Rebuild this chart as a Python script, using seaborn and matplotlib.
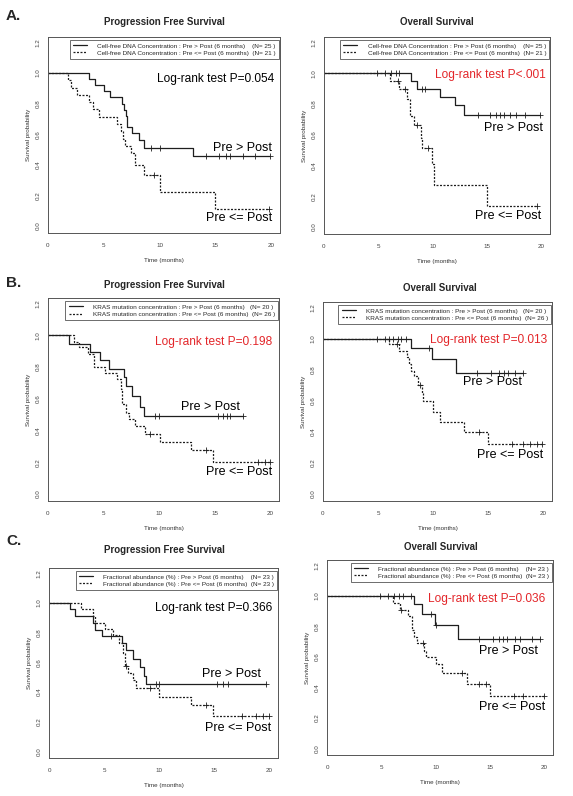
import pandas as pd
import matplotlib
matplotlib.use("Agg")
import matplotlib.pyplot as plt
from matplotlib.lines import Line2D
import seaborn as sns

sns.set_style("white")
plt.rcParams['font.family'] = ['Liberation Sans', 'DejaVu Sans']

# ---- Data ----
# A. Cell-free DNA concentration
a_pfs_hi_t = [3.7, 4.2, 5.0, 5.6, 6.6, 6.8, 7.0, 7.1, 7.5, 8.2, 8.6, 13.0]
a_pfs_hi_s = [0.96, 0.92, 0.88, 0.84, 0.80, 0.76, 0.72, 0.65, 0.61, 0.56, 0.51, 0.456]
a_pfs_hi_c = [9.2, 10.0, 14.2, 15.3, 16.0, 16.3, 17.5, 18.6, 19.9]
a_pfs_lo_t = [1.8, 2.1, 2.6, 3.7, 4.0, 4.6, 6.2, 6.5, 6.7, 6.9, 7.4, 7.8, 8.6, 10.0, 15.0]
a_pfs_lo_s = [0.952, 0.905, 0.857, 0.81, 0.762, 0.714, 0.667, 0.619, 0.571, 0.524, 0.476, 0.40, 0.333, 0.222, 0.111]
a_pfs_lo_c = [9.5, 19.8]

a_os_hi_t = [8.0, 8.6, 10.7, 12.1, 12.9]
a_os_hi_s = [0.95, 0.90, 0.845, 0.79, 0.73]
a_os_hi_c = [4.9, 5.6, 6.2, 6.6, 6.9, 9.0, 9.3, 14.2, 15.3, 15.8, 16.2, 16.6, 17.1, 17.7, 18.5, 19.9]
a_os_lo_t = [6.1, 6.9, 7.6, 7.9, 8.3, 8.9, 9.0, 9.9, 10.1, 15.0]
a_os_lo_s = [0.95, 0.895, 0.835, 0.72, 0.665, 0.58, 0.515, 0.41, 0.275, 0.14]
a_os_lo_c = [6.8, 7.5, 8.6, 9.6, 19.6]

# B. KRAS mutation concentration
b_pfs_hi_t = [1.9, 3.8, 4.7, 5.5, 6.8, 7.0, 7.6, 8.3, 8.6]
b_pfs_hi_s = [0.945, 0.895, 0.845, 0.79, 0.735, 0.68, 0.62, 0.55, 0.49]
b_pfs_hi_c = [9.6, 10.0, 15.3, 15.8, 16.1, 16.4, 17.6]
b_pfs_lo_t = [2.3, 2.8, 3.6, 4.1, 5.1, 6.2, 6.6, 6.7, 7.0, 7.3, 7.8, 8.7, 10.1, 12.9, 14.9]
b_pfs_lo_s = [0.96, 0.925, 0.885, 0.80, 0.765, 0.725, 0.66, 0.565, 0.51, 0.47, 0.43, 0.38, 0.33, 0.275, 0.20]
b_pfs_lo_c = [9.2, 14.2, 18.9, 19.5, 20.0]

b_os_hi_t = [8.0, 9.9, 12.1]
b_os_hi_s = [0.94, 0.87, 0.78]
b_os_hi_c = [4.9, 5.6, 6.0, 6.4, 6.8, 7.1, 7.5, 9.6, 14.0, 15.3, 16.0, 16.4, 16.8, 17.4, 18.2]
b_os_lo_t = [6.0, 6.9, 7.6, 7.8, 8.0, 8.3, 8.6, 9.0, 9.1, 10.0, 10.6, 12.8, 15.0]
b_os_lo_s = [0.965, 0.92, 0.88, 0.835, 0.79, 0.76, 0.70, 0.65, 0.60, 0.53, 0.465, 0.40, 0.32]
b_os_lo_c = [6.7, 8.8, 14.2, 17.2, 18.2, 18.8, 19.4, 19.9]

# C. Fractional abundance
c_pfs_hi_t = [1.9, 2.4, 4.0, 4.2, 4.8, 6.6, 7.0, 7.6, 8.3, 8.6, 8.8]
c_pfs_hi_s = [0.957, 0.91, 0.865, 0.82, 0.78, 0.73, 0.68, 0.625, 0.57, 0.51, 0.455]
c_pfs_hi_c = [5.6, 9.7, 10.0, 15.3, 15.8, 16.3, 19.7]
c_pfs_lo_t = [2.9, 4.0, 4.2, 5.1, 5.8, 6.4, 6.7, 6.9, 7.2, 7.6, 7.9, 10.0, 12.9, 14.9]
c_pfs_lo_s = [0.957, 0.91, 0.865, 0.826, 0.785, 0.73, 0.665, 0.575, 0.53, 0.48, 0.425, 0.365, 0.31, 0.235]
c_pfs_lo_c = [7.0, 9.2, 14.3, 17.5, 18.8, 19.4, 20.0]

c_os_hi_t = [8.0, 8.7, 9.9, 12.1]
c_os_hi_s = [0.945, 0.88, 0.81, 0.715]
c_os_hi_c = [4.9, 5.6, 6.2, 6.6, 7.0, 7.7, 9.6, 10.0, 14.0, 15.3, 15.8, 16.2, 16.6, 17.3, 17.8, 18.9, 19.6]
c_os_lo_t = [6.1, 6.7, 7.5, 7.8, 8.0, 8.3, 8.9, 9.1, 10.0, 10.6, 12.9, 15.0]
c_os_lo_s = [0.955, 0.91, 0.865, 0.775, 0.73, 0.69, 0.64, 0.60, 0.555, 0.495, 0.42, 0.34]
c_os_lo_c = [6.8, 8.8, 12.4, 14.0, 14.6, 17.2, 18.0, 20.0]

legend_a = ["Cell-free DNA Concentration : Pre > Post (6 months)    (N= 25 )",
            "Cell-free DNA Concentration : Pre <= Post (6 months)  (N= 21 )"]
legend_b = ["KRAS mutation concentration : Pre > Post (6 months)   (N= 20 )",
            "KRAS mutation concentration : Pre <= Post (6 months)  (N= 26 )"]
legend_c = ["Fractional abundance (%) : Pre > Post (6 months)    (N= 23 )",
            "Fractional abundance (%) : Pre <= Post (6 months)  (N= 23 )"]

W, H = 573, 796
RED = '#e3262a'
LINE = '#1e1e1e'
DOT = (0, (1.6, 1.2))


def km_frame(times, surv, cens):
    # step curve runs until last event / censor time
    end = max(times + cens)
    return pd.DataFrame({'t': [0.0] + times + [end], 's': [1.0] + surv + [surv[-1]]})


def censor_frame(times, surv, cens):
    ys = []
    for c in cens:
        s = 1.0
        for t, v in zip(times, surv):
            if t <= c:
                s = v
        ys.append(s)
    return pd.DataFrame({'t': cens, 's': ys})


def px_axes(fig, x0, y0, x1, y1):
    # pixel box (left, top, right, bottom) -> figure axes
    return fig.add_axes([x0 / W, 1 - y1 / H, (x1 - x0) / W, (y1 - y0) / H])


def draw_km(ax, hi, lo, labels, p_text, p_color, txt_pos):
    for (t, s, c), ls in [(hi, '-'), (lo, DOT)]:
        sns.lineplot(data=km_frame(t, s, c), x='t', y='s', ax=ax, estimator=None, sort=False,
                     drawstyle='steps-post', color=LINE, linewidth=0.9, linestyle=ls)
        sns.scatterplot(data=censor_frame(t, s, c), x='t', y='s', ax=ax, marker='+',
                        color=LINE, s=14, linewidth=0.6, zorder=3)

    ax.set_xlim(0, 20.8)
    ax.set_ylim(-0.045, 1.235)
    ax.set_xticks([0, 5, 10, 15, 20])
    ax.set_yticks([0.0, 0.2, 0.4, 0.6, 0.8, 1.0, 1.2])
    ax.set_yticklabels(['0.0', '0.2', '0.4', '0.6', '0.8', '1.0', '1.2'], rotation=90, va='center')
    ax.tick_params(direction='out', length=3.5, width=0.5, labelsize=4.5, colors='#444', pad=2)
    ax.tick_params(axis='x', pad=4)
    for sp in ax.spines.values():
        sp.set_color('#555')
        sp.set_linewidth(0.7)
    ax.set_xlabel('Time (months)', fontsize=4.5, color='#333', labelpad=7)
    ax.set_ylabel('Survival probability', fontsize=4.5, color='#333', labelpad=3)

    handles = [Line2D([], [], color=LINE, lw=0.9, ls='-'),
               Line2D([], [], color=LINE, lw=0.9, ls=DOT)]
    ax.legend(handles, labels, loc='upper right', bbox_to_anchor=(0.997, 0.985),
              fontsize=4.6, frameon=True, fancybox=False, edgecolor='#555', framealpha=1,
              borderpad=0.5, handlelength=2.2, handletextpad=1.6, labelspacing=0.25,
              borderaxespad=0)
    ax.get_legend().get_frame().set_linewidth(0.6)

    (px, py), (hx, hy), (lx, ly) = txt_pos
    ax.text(px, py, p_text, ha='right', va='center', fontsize=8.6, color=p_color)
    ax.text(hx, hy, 'Pre > Post', ha='right', va='center', fontsize=9, color='black')
    ax.text(lx, ly, 'Pre <= Post', ha='right', va='center', fontsize=9, color='black')


fig = plt.figure(figsize=(W / 100, H / 100), dpi=100)

panels = [
    # box px, curves, legend, p text, color, text positions, title, title pos
    ((48, 37, 280, 233), (a_pfs_hi_t, a_pfs_hi_s, a_pfs_hi_c), (a_pfs_lo_t, a_pfs_lo_s, a_pfs_lo_c),
     legend_a, 'Log-rank test P=0.054', 'black', [(20.3, 0.96), (20.1, 0.51), (20.1, 0.05)],
     'Progression Free Survival', (164, 22)),
    ((324, 37, 550, 234), (a_os_hi_t, a_os_hi_s, a_os_hi_c), (a_os_lo_t, a_os_lo_s, a_os_lo_c),
     legend_a, 'Log-rank test P<.001', RED, [(20.4, 0.99), (20.2, 0.645), (20.0, 0.07)],
     'Overall Survival', (437, 22)),
    ((48, 298, 279, 501), (b_pfs_hi_t, b_pfs_hi_s, b_pfs_hi_c), (b_pfs_lo_t, b_pfs_lo_s, b_pfs_lo_c),
     legend_b, 'Log-rank test P=0.198', RED, [(20.2, 0.96), (17.3, 0.55), (20.15, 0.14)],
     'Progression Free Survival', (164, 285)),
    ((323, 302, 552, 501), (b_os_hi_t, b_os_hi_s, b_os_hi_c), (b_os_lo_t, b_os_lo_s, b_os_lo_c),
     legend_b, 'Log-rank test P=0.013', RED, [(20.4, 0.99), (18.1, 0.72), (20.0, 0.25)],
     'Overall Survival', (440, 288)),
    ((49, 568, 278, 758), (c_pfs_hi_t, c_pfs_hi_s, c_pfs_hi_c), (c_pfs_lo_t, c_pfs_lo_s, c_pfs_lo_c),
     legend_c, 'Log-rank test P=0.366', 'black', [(20.3, 0.967), (19.3, 0.52), (20.15, 0.16)],
     'Progression Free Survival', (164, 550)),
    ((327, 560, 553, 755), (c_os_hi_t, c_os_hi_s, c_os_hi_c), (c_os_lo_t, c_os_lo_s, c_os_lo_c),
     legend_c, 'Log-rank test P=0.036', RED, [(20.05, 0.98), (19.4, 0.64), (20.05, 0.27)],
     'Overall Survival', (441, 547)),
]

for box, hi, lo, labels, ptxt, pcol, tpos, title, (tx, ty) in panels:
    ax = px_axes(fig, *box)
    draw_km(ax, hi, lo, labels, ptxt, pcol, tpos)
    fig.text(tx / W, 1 - ty / H, title, ha='center', va='center', fontsize=7, fontweight='bold')

# panel letters
for letter, y in [('A.', 16), ('B.', 283), ('C.', 541)]:
    fig.text(6 / W, 1 - y / H, letter, ha='left', va='center', fontsize=11, fontweight='bold')

fig.savefig('out.png', dpi=100)
